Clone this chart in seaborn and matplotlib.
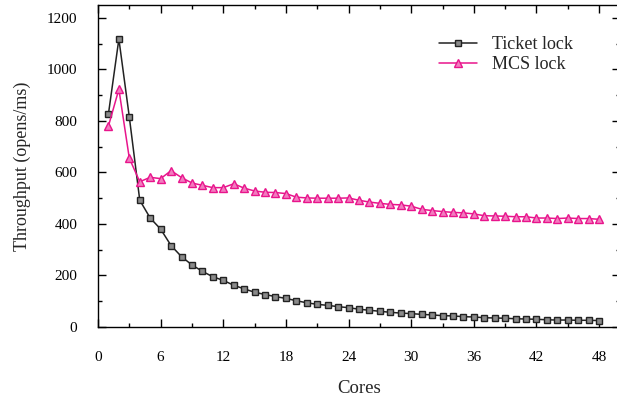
import numpy as np
import pandas as pd
import matplotlib
matplotlib.use("Agg")
import matplotlib.pyplot as plt
from matplotlib.ticker import MultipleLocator
from matplotlib.lines import Line2D
import seaborn as sns

cores = list(range(1, 49))

ticket_lock = [827, 1118, 815, 492, 423, 380, 316, 273, 241, 216,
               195, 181, 162, 148, 135, 126, 118, 111, 102, 94,
               88, 84, 79, 75, 69, 65, 61, 57, 54, 52,
               49, 47, 44, 43, 40, 39, 36, 35, 34, 32,
               31, 30, 28, 27, 27, 26, 26, 25]

mcs_lock = [780, 923, 655, 564, 581, 576, 607, 580, 559, 550,
            541, 541, 556, 539, 528, 523, 522, 518, 504, 501,
            500, 500, 500, 501, 492, 485, 480, 476, 474, 469,
            457, 452, 448, 445, 443, 439, 432, 431, 430, 428,
            428, 423, 423, 421, 423, 421, 421, 418]

series_names = ["Ticket lock", "MCS lock"]
x_ticks = [0, 6, 12, 18, 24, 30, 36, 42, 48]
y_ticks = [0, 200, 400, 600, 800, 1000, 1200]

df = pd.DataFrame({
    "Cores": cores * 2,
    "Throughput": ticket_lock + mcs_lock,
    "Lock": [series_names[0]] * len(cores) + [series_names[1]] * len(cores),
})

sns.set_style("ticks")
plt.rcParams["font.family"] = ["Liberation Serif", "DejaVu Serif"]

fig = plt.figure(figsize=(6.17, 4.03), dpi=100)
W, H = 617, 403
left, right, top, bottom = 98, 620, 5, 327
ax = fig.add_axes([left / W, 1 - bottom / H, (right - left) / W, (bottom - top) / H])

line_colors = {"Ticket lock": "#222222", "MCS lock": "#e8158c"}
face_colors = ["#8a8a8a", "#f27cbf"]
marker_sizes = [4.0, 5.2]

sns.lineplot(data=df, x="Cores", y="Throughput", hue="Lock", style="Lock",
             palette=line_colors, markers={"Ticket lock": "s", "MCS lock": "^"},
             dashes=False, linewidth=1.1, markersize=5, ax=ax, legend=False)

for line, name, face, size in zip(ax.lines, series_names, face_colors, marker_sizes):
    line.set_markeredgecolor(line_colors[name])
    line.set_markerfacecolor(face)
    line.set_markeredgewidth(1.0)
    line.set_markersize(size)
    line.set_clip_on(False)

ax.set_xlim(0, 50)
ax.set_ylim(0, 1250)
ax.set_xticks(x_ticks)
ax.set_yticks(y_ticks)
ax.xaxis.set_minor_locator(MultipleLocator(3))
ax.yaxis.set_minor_locator(MultipleLocator(100))

for side in ["top", "right", "left", "bottom"]:
    ax.spines[side].set_visible(True)
    ax.spines[side].set_linewidth(1.0)
    ax.spines[side].set_color("black")

ax.tick_params(which="both", direction="in", top=True, right=True, colors="black")
ax.tick_params(which="major", length=6, width=1.0)
ax.tick_params(which="minor", length=3, width=1.0)
ax.tick_params(axis="x", which="major", pad=17, labelsize=11)
ax.tick_params(axis="y", which="major", pad=15, labelsize=11)

ax.set_xlabel("Cores", fontsize=13.5, labelpad=12)
ax.set_ylabel("Throughput (opens/ms)", fontsize=13, labelpad=11)

handles = [
    Line2D([], [], color=line_colors[name], marker=m, markersize=s,
           markerfacecolor=f, markeredgecolor=line_colors[name], linewidth=1.1)
    for name, m, s, f in zip(series_names, ["s", "^"], marker_sizes, face_colors)
]
ax.legend(handles, series_names, loc="upper left", bbox_to_anchor=(0.64, 0.925),
          frameon=False, fontsize=13, handlelength=2.1, handletextpad=0.8,
          labelspacing=0.15, borderaxespad=0)

fig.savefig("out.png", dpi=100)
